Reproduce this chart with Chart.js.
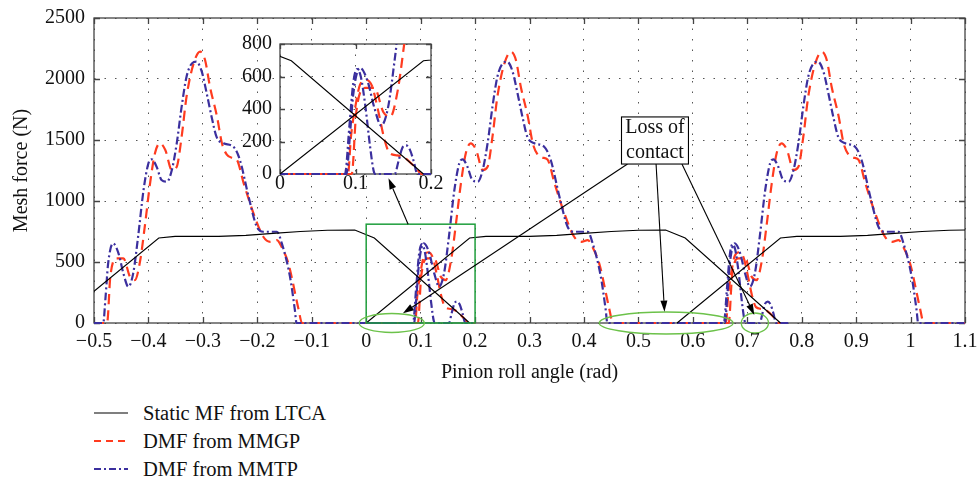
<!DOCTYPE html>
<html>
<head>
<meta charset="utf-8">
<script src="https://cdn.jsdelivr.net/npm/chart.js@4.4.1/dist/chart.umd.min.js"></script>
<style>
  html, body { margin: 0; padding: 0; background: #fff; }
  #wrap { position: relative; width: 978px; height: 481px; font-family: "Liberation Serif", serif; color: #111; }
  #mainBox { position: absolute; left: 0; top: 0; width: 978px; height: 388px; }
  #insetBox { position: absolute; left: 230px; top: 30px; width: 215px; height: 170px; }
  #legend { position: absolute; left: 94px; top: 399px; font-size: 20.5px; }
  #legend .row { height: 28px; line-height: 28px; display: flex; align-items: center; }
  #legend svg { width: 34px; height: 28px; margin-right: 15px; }
</style>
</head>
<body>
<div id="wrap">
  <div id="mainBox"><canvas id="main"></canvas></div>
  <div id="insetBox"><canvas id="inset"></canvas></div>
  <div id="legend">
    <div class="row"><svg><line x1="0" y1="14" x2="34" y2="14" stroke="#000" stroke-width="1.2"/></svg><span>Static MF from LTCA</span></div>
    <div class="row"><svg><line x1="0" y1="14" x2="34" y2="14" stroke="#ff3b1f" stroke-width="2" stroke-dasharray="7 5"/></svg><span>DMF from MMGP</span></div>
    <div class="row"><svg><line x1="0" y1="14" x2="34" y2="14" stroke="#3b2f9e" stroke-width="2" stroke-dasharray="7 3 2 3"/></svg><span>DMF from MMTP</span></div>
  </div>
</div>
<script>
// tick labels
const xTickLabels = ['\u22120.5', '\u22120.4', '\u22120.3', '\u22120.2', '\u22120.1', '0', '0.1', '0.2', '0.3', '0.4', '0.5', '0.6', '0.7', '0.8', '0.9', '1', '1.1'];
const yTickLabels = ['0', '500', '1000', '1500', '2000', '2500'];
const insetXTickLabels = ['0', '0.1', '0.2'];
const insetYTickLabels = ['0', '200', '400', '600', '800'];

// static mesh force (LTCA), one array per tooth pair: [angle rad, force N]
const staticA = [[-0.5,260],[-0.381,697],[-0.351,710],[-0.271,710],[-0.221,718],[-0.171,735],[-0.121,750],[-0.071,760],[-0.021,762],[0.015,697],[0.19,0]];
const staticB = [[0,0],[0.19,697],[0.22,710],[0.30,710],[0.35,718],[0.40,735],[0.45,750],[0.50,760],[0.55,762],[0.586,697],[0.761,0]];
const staticC = [[0.571,0],[0.761,697],[0.791,710],[0.871,710],[0.921,718],[0.971,735],[1.021,750],[1.071,760],[1.1,762]];

// dynamic mesh force, MMTP (blue)
const mmtpA = [[-0.5,0],[-0.483,0],[-0.479,200],[-0.474,489],[-0.465,653],[-0.455,571],[-0.446,407],[-0.437,298],[-0.428,407],[-0.419,707],[-0.409,1090],[-0.400,1309],[-0.394,1342],[-0.385,1281],[-0.376,1172],[-0.366,1158],[-0.357,1254],[-0.348,1473],[-0.339,1773],[-0.330,2019],[-0.320,2128],[-0.312,2142],[-0.302,2060],[-0.293,1883],[-0.284,1691],[-0.275,1527],[-0.262,1473],[-0.244,1445],[-0.232,1336],[-0.216,1035],[-0.201,789],[-0.189,748],[-0.164,748],[-0.155,653],[-0.140,380],[-0.131,107],[-0.128,0],[0.086,0],[0.092,300],[0.097,560],[0.102,646],[0.107,600],[0.113,420],[0.119,180],[0.124,20],[0.126,0],[0.152,0],[0.157,80],[0.162,160],[0.167,176],[0.172,150],[0.177,80],[0.182,0],[0.2,0]];
const mmtpB = [[0,0],[0.088,0],[0.092,200],[0.097,489],[0.106,653],[0.116,571],[0.125,407],[0.134,298],[0.143,407],[0.152,707],[0.162,1090],[0.171,1309],[0.177,1342],[0.186,1281],[0.195,1172],[0.205,1158],[0.214,1254],[0.223,1473],[0.232,1773],[0.241,2019],[0.251,2128],[0.259,2142],[0.269,2060],[0.278,1883],[0.287,1691],[0.296,1527],[0.309,1473],[0.327,1445],[0.339,1336],[0.355,1035],[0.370,789],[0.382,748],[0.407,748],[0.416,653],[0.431,380],[0.440,107],[0.443,0],[0.657,0],[0.663,300],[0.668,560],[0.673,646],[0.678,600],[0.684,420],[0.690,180],[0.695,20],[0.697,0],[0.723,0],[0.728,80],[0.733,160],[0.738,176],[0.743,150],[0.748,80],[0.753,0],[0.78,0]];
const mmtpC = [[0.571,0],[0.659,0],[0.663,200],[0.668,489],[0.677,653],[0.687,571],[0.696,407],[0.705,298],[0.714,407],[0.723,707],[0.733,1090],[0.742,1309],[0.748,1342],[0.757,1281],[0.766,1172],[0.776,1158],[0.785,1254],[0.794,1473],[0.803,1773],[0.812,2019],[0.822,2128],[0.830,2142],[0.840,2060],[0.849,1883],[0.858,1691],[0.867,1527],[0.880,1473],[0.898,1445],[0.910,1336],[0.926,1035],[0.941,789],[0.953,748],[0.978,748],[0.987,653],[1.002,380],[1.011,107],[1.014,0],[1.1,0]];

// dynamic mesh force, MMGP (red)
const mmgpA = [[-0.5,0],[-0.476,0],[-0.470,380],[-0.458,530],[-0.446,530],[-0.434,380],[-0.425,352],[-0.415,516],[-0.406,817],[-0.397,1145],[-0.388,1391],[-0.379,1473],[-0.369,1418],[-0.357,1254],[-0.348,1281],[-0.339,1527],[-0.330,1855],[-0.317,2128],[-0.305,2224],[-0.296,2156],[-0.287,1937],[-0.274,1691],[-0.265,1473],[-0.256,1380],[-0.247,1355],[-0.238,1340],[-0.225,1145],[-0.207,899],[-0.189,707],[-0.176,665],[-0.164,680],[-0.155,620],[-0.143,489],[-0.124,107],[-0.118,0],[0.090,0],[0.094,230],[0.100,420],[0.106,550],[0.114,580],[0.122,540],[0.130,390],[0.138,220],[0.145,130],[0.155,115],[0.165,100],[0.175,60],[0.183,20],[0.187,0],[0.2,0]];
const mmgpB = [[0,0],[0.095,0],[0.101,380],[0.113,530],[0.125,530],[0.137,380],[0.146,352],[0.156,516],[0.165,817],[0.174,1145],[0.183,1391],[0.192,1473],[0.202,1418],[0.214,1254],[0.223,1281],[0.232,1527],[0.241,1855],[0.254,2128],[0.266,2224],[0.275,2156],[0.284,1937],[0.297,1691],[0.306,1473],[0.315,1380],[0.324,1355],[0.333,1340],[0.346,1145],[0.364,899],[0.382,707],[0.395,665],[0.407,680],[0.416,620],[0.428,489],[0.447,107],[0.453,0],[0.661,0],[0.665,230],[0.671,420],[0.677,550],[0.685,580],[0.693,540],[0.701,390],[0.709,220],[0.716,130],[0.726,115],[0.736,100],[0.746,60],[0.754,20],[0.758,0],[0.78,0]];
const mmgpC = [[0.571,0],[0.666,0],[0.672,380],[0.684,530],[0.696,530],[0.708,380],[0.717,352],[0.727,516],[0.736,817],[0.745,1145],[0.754,1391],[0.763,1473],[0.773,1418],[0.785,1254],[0.794,1281],[0.803,1527],[0.812,1855],[0.825,2128],[0.837,2224],[0.846,2156],[0.855,1937],[0.868,1691],[0.877,1473],[0.886,1380],[0.895,1355],[0.904,1340],[0.917,1145],[0.935,899],[0.953,707],[0.966,665],[0.978,680],[0.987,620],[0.999,489],[1.018,107],[1.024,0],[1.1,0]];

// annotations (data coordinates)
const zoomRect = { x0: 0, x1: 0.2, y0: 0, y1: 810 };
const zoomArrow = [[0.077, 810], [0.041, 1186]];
const lossBox = { x0: 0.469, x1: 0.592, y0: 1303, y1: 1689, lines: ['Loss of', 'contact'] };
const lossArrows = [[[0.480, 1303], [0.0675, 79]], [[0.5325, 1303], [0.548, 93]], [[0.580, 1303], [0.713, 66]]];
const lossEllipses = [{ cx: 0.047, rx: 0.06, ry: 78 }, { cx: 0.551, rx: 0.123, ry: 90 }, { cx: 0.714, rx: 0.025, ry: 82 }];

const FONT = '"Liberation Serif", "Times New Roman", serif';
const RED = '#ff3b1f', BLUE = '#3b2f9e';

function makeSets() {
  const st = d => ({ data: d.map(p => p.slice()), borderColor: '#000', borderWidth: 1.1, pointRadius: 0, tension: 0, clip: { left: 0, top: 0, right: 0, bottom: 3 } });
  const dyn = (d, c, dash) => ({ data: d.map(p => p.slice()), borderColor: c, borderWidth: 2.2, borderDash: dash, pointRadius: 0, cubicInterpolationMode: 'monotone', clip: { left: 0, top: 0, right: 0, bottom: 3 } });
  return [
    st(staticA), st(staticB), st(staticC),
    dyn(mmtpA, BLUE, [8, 3, 2, 3]), dyn(mmtpB, BLUE, [8, 3, 2, 3]), dyn(mmtpC, BLUE, [8, 3, 2, 3]),
    dyn(mmgpA, RED, [10, 6]), dyn(mmgpB, RED, [10, 6]), dyn(mmgpC, RED, [10, 6])
  ];
}

// box, inward tick marks and white plot background
const frameTicks = {
  id: 'frameTicks',
  beforeDraw(chart) {
    const { ctx, chartArea: a } = chart;
    ctx.save();
    ctx.fillStyle = '#fff';
    ctx.fillRect(a.left, a.top, a.right - a.left, a.bottom - a.top);
    ctx.restore();
  },
  beforeDatasetsDraw(chart, args, opts) {
    const { ctx, chartArea: a, scales: { x, y } } = chart;
    const len = opts.len || 6;
    ctx.save();
    ctx.strokeStyle = '#444';
    ctx.lineWidth = 1.3;
    ctx.strokeRect(a.left, a.top, a.right - a.left, a.bottom - a.top);
    ctx.beginPath();
    x.ticks.forEach(t => {
      const px = Math.round(x.getPixelForValue(t.value)) + 0.5;
      ctx.moveTo(px, a.bottom); ctx.lineTo(px, a.bottom - len);
      ctx.moveTo(px, a.top); ctx.lineTo(px, a.top + len);
    });
    y.ticks.forEach(t => {
      const py = Math.round(y.getPixelForValue(t.value)) + 0.5;
      ctx.moveTo(a.left, py); ctx.lineTo(a.left + len, py);
      ctx.moveTo(a.right, py); ctx.lineTo(a.right - len, py);
    });
    ctx.stroke();
    ctx.restore();
  }
};

function arrow(ctx, x1, y1, x2, y2) {
  const ang = Math.atan2(y2 - y1, x2 - x1), L = 11, W = 3.5;
  ctx.beginPath();
  ctx.moveTo(x1, y1);
  ctx.lineTo(x2 - L * Math.cos(ang), y2 - L * Math.sin(ang));
  ctx.stroke();
  ctx.beginPath();
  ctx.moveTo(x2, y2);
  ctx.lineTo(x2 - L * Math.cos(ang) + W * Math.sin(ang), y2 - L * Math.sin(ang) - W * Math.cos(ang));
  ctx.lineTo(x2 - L * Math.cos(ang) - W * Math.sin(ang), y2 - L * Math.sin(ang) + W * Math.cos(ang));
  ctx.closePath();
  ctx.fill();
}

const notes = {
  id: 'notes',
  afterDraw(chart) {
    const { ctx, scales: { x, y } } = chart;
    const X = v => x.getPixelForValue(v), Y = v => y.getPixelForValue(v);
    ctx.save();
    // zoom rectangle
    ctx.strokeStyle = '#1f9e3c';
    ctx.lineWidth = 1.5;
    ctx.strokeRect(X(zoomRect.x0), Y(zoomRect.y1), X(zoomRect.x1) - X(zoomRect.x0), Y(zoomRect.y0) - Y(zoomRect.y1));
    // ellipses
    ctx.strokeStyle = '#6cc24a';
    ctx.lineWidth = 1.3;
    lossEllipses.forEach(e => {
      ctx.beginPath();
      ctx.ellipse(X(e.cx), Y(0), X(e.cx + e.rx) - X(e.cx), Y(0) - Y(e.ry), 0, 0, Math.PI * 2);
      ctx.stroke();
    });
    // arrows
    ctx.strokeStyle = '#000';
    ctx.fillStyle = '#000';
    ctx.lineWidth = 1.1;
    arrow(ctx, X(zoomArrow[0][0]), Y(zoomArrow[0][1]), X(zoomArrow[1][0]), Y(zoomArrow[1][1]));
    lossArrows.forEach(a => arrow(ctx, X(a[0][0]), Y(a[0][1]), X(a[1][0]), Y(a[1][1])));
    // loss of contact box
    const bx = X(lossBox.x0), by = Y(lossBox.y1), bw = X(lossBox.x1) - bx, bh = Y(lossBox.y0) - by;
    ctx.fillStyle = '#fff';
    ctx.fillRect(bx, by, bw, bh);
    ctx.strokeStyle = '#000';
    ctx.lineWidth = 1.1;
    ctx.strokeRect(bx, by, bw, bh);
    ctx.fillStyle = '#111';
    ctx.font = '20px ' + FONT;
    ctx.textAlign = 'center';
    ctx.textBaseline = 'middle';
    ctx.fillText(lossBox.lines[0], bx + bw / 2, by + 11);
    ctx.fillText(lossBox.lines[1], bx + bw / 2, by + 36);
    ctx.restore();
  }
};

const tickFont = { family: FONT, size: 20 };
// fix axis box sizes so the plot area lands where the reference has it
const fitX = h => s => { s.height = h; s.paddingLeft = 0; s.paddingRight = 0; };
const fitY = w => s => { s.width = w; s.paddingTop = 0; s.paddingBottom = 0; };

new Chart(document.getElementById('main'), {
  type: 'line',
  data: { datasets: makeSets() },
  options: {
    responsive: true,
    maintainAspectRatio: false,
    animation: false,
    layout: { padding: { left: 6, right: 13, top: 18, bottom: 0 } },
    plugins: { legend: { display: false }, tooltip: { enabled: false }, frameTicks: { len: 6 } },
    scales: {
      x: {
        type: 'linear', min: -0.5, max: 1.1,
        afterFit: fitX(65),
        ticks: { stepSize: 0.1, autoSkip: false, maxRotation: 0, padding: 7, color: '#111', font: tickFont, callback: (v, i) => xTickLabels[i] },
        grid: { color: '#555', lineWidth: 1, drawTicks: false },
        border: { display: false, dash: [1.5, 9] },
        title: { display: true, text: 'Pinion roll angle (rad)', color: '#111', font: tickFont, padding: { top: 4, bottom: 3 } }
      },
      y: {
        min: 0, max: 2500,
        afterFit: fitY(88),
        ticks: { stepSize: 500, autoSkip: false, padding: 9, color: '#111', font: tickFont, callback: (v, i) => yTickLabels[i] },
        grid: { color: '#555', lineWidth: 1, drawTicks: false },
        border: { display: false, dash: [1.5, 9] },
        title: { display: true, text: 'Mesh force (N)', color: '#111', font: tickFont, padding: { top: 4, bottom: 4 } }
      }
    }
  },
  plugins: [frameTicks, notes]
});

new Chart(document.getElementById('inset'), {
  type: 'line',
  data: { datasets: makeSets() },
  options: {
    responsive: true,
    maintainAspectRatio: false,
    animation: false,
    layout: { padding: { left: 0, right: 14, top: 14, bottom: 0 } },
    plugins: { legend: { display: false }, tooltip: { enabled: false }, frameTicks: { len: 5 } },
    scales: {
      x: {
        type: 'linear', min: 0, max: 0.2,
        afterFit: fitX(26),
        ticks: { stepSize: 0.1, autoSkip: false, maxRotation: 0, padding: 0, color: '#111', font: { family: FONT, size: 20, lineHeight: 1 }, callback: (v, i) => insetXTickLabels[i] },
        grid: { color: '#555', lineWidth: 1, drawTicks: false },
        border: { display: false, dash: [1.5, 9] }
      },
      y: {
        min: 0, max: 800,
        afterFit: fitY(50),
        ticks: { stepSize: 200, autoSkip: false, padding: 8, color: '#111', font: tickFont, callback: (v, i) => insetYTickLabels[i] },
        grid: { color: '#555', lineWidth: 1, drawTicks: false },
        border: { display: false, dash: [1.5, 9] }
      }
    }
  },
  plugins: [frameTicks]
});
</script>
</body>
</html>
